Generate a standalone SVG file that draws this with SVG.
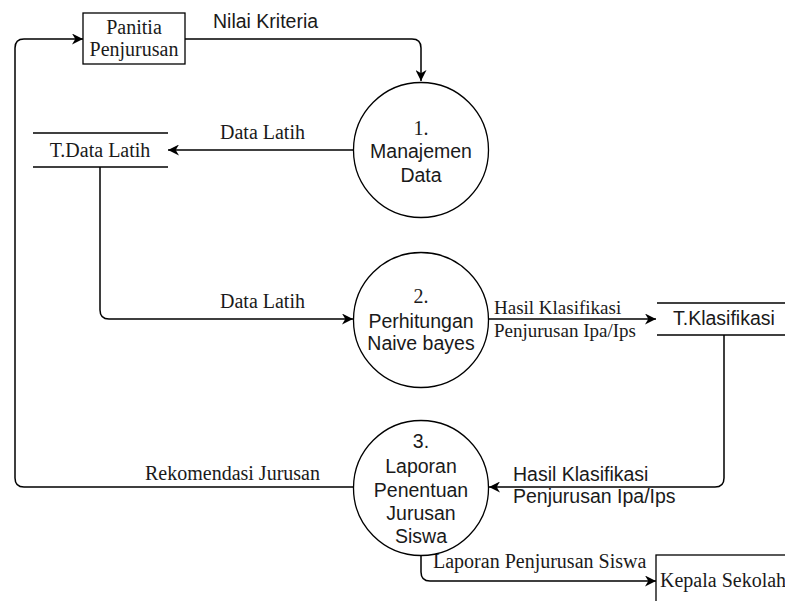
<svg xmlns="http://www.w3.org/2000/svg" width="785" height="601" viewBox="0 0 785 601">
<defs>
<style>
.ln{fill:none;stroke:#000;stroke-width:1.5}
.sh{fill:#fff;stroke:#000;stroke-width:1.3}
.se{font-family:"Liberation Serif","Times New Roman",serif;font-size:20px;fill:#1a1a1a}
.sa{font-family:"Liberation Sans",Arial,sans-serif;font-size:19.5px;fill:#1a1a1a}
.sm{font-size:19px}
.c{text-anchor:middle}
</style>
<marker id="ar" viewBox="0 0 10 10" refX="10" refY="5" markerWidth="11" markerHeight="11" markerUnits="userSpaceOnUse" orient="auto">
<path d="M0,0 L10,5 L0,10 L3,5 z" fill="#000"/>
</marker>
</defs>
<rect width="785" height="601" fill="#fff"/>
<g id="connectors">
<path class="ln" d="M185,39 H412 Q421,39 421,48 V81" marker-end="url(#ar)"/>
<path class="ln" d="M353,150 H168" marker-end="url(#ar)"/>
<path class="ln" d="M100,167 V310 Q100,319 109,319 H353" marker-end="url(#ar)"/>
<path class="ln" d="M488,319 H656" marker-end="url(#ar)"/>
<path class="ln" d="M724,335 V478 Q724,487 715,487 H489" marker-end="url(#ar)"/>
<path class="ln" d="M353,487 H24 Q15,487 15,478 V48 Q15,39 24,39 H83" marker-end="url(#ar)"/>
<path class="ln" d="M421,555 V572 Q421,581 430,581 H656" marker-end="url(#ar)"/>
<text class="sa" x="213" y="28">Nilai Kriteria</text>
<text class="se" x="220" y="139">Data Latih</text>
<text class="se" x="220" y="308">Data Latih</text>
<text class="se sm" x="494" y="314">Hasil Klasifikasi</text>
<text class="se sm" x="494" y="337">Penjurusan Ipa/Ips</text>
<text class="sa" x="513" y="481">Hasil Klasifikasi</text>
<text class="sa" x="513" y="503">Penjurusan Ipa/Ips</text>
<text class="se" x="145" y="480">Rekomendasi Jurusan</text>
<text class="se" x="433" y="568">Laporan Penjurusan Siswa</text>
</g>
<g id="panitia">
<rect class="sh" x="83" y="13" width="102" height="51"/>
<text class="se c" x="134" y="34">Panitia</text>
<text class="se c" x="134" y="56">Penjurusan</text>
</g>
<g id="tdatalatih">
<line class="ln" x1="33" y1="133" x2="168" y2="133"/>
<line class="ln" x1="33" y1="167" x2="168" y2="167"/>
<text class="se c" x="100" y="157">T.Data Latih</text>
</g>
<g id="p1">
<circle class="sh" cx="421" cy="150" r="67.5"/>
<text class="se c" x="421" y="135">1.</text>
<text class="sa c" x="421" y="158">Manajemen</text>
<text class="sa c" x="421" y="182">Data</text>
</g>
<g id="p2">
<circle class="sh" cx="421" cy="320" r="67.5"/>
<text class="se c" x="421" y="303">2.</text>
<text class="sa c" x="421" y="328">Perhitungan</text>
<text class="sa c" x="421" y="350">Naive bayes</text>
</g>
<g id="tklasifikasi">
<line class="ln" x1="657" y1="303" x2="785" y2="303"/>
<line class="ln" x1="657" y1="335" x2="785" y2="335"/>
<text class="sa" x="673" y="325">T.Klasifikasi</text>
</g>
<g id="p3">
<ellipse class="sh" cx="421" cy="488" rx="67.5" ry="67.5"/>
<text class="sa c" x="421" y="448">3.</text>
<text class="sa c" x="421" y="473">Laporan</text>
<text class="sa c" x="421" y="497">Penentuan</text>
<text class="sa c" x="421" y="520">Jurusan</text>
<text class="sa c" x="421" y="543">Siswa</text>
</g>
<g id="kepala">
<rect class="sh" x="656" y="555" width="140" height="60"/>
<text class="se" x="660" y="587">Kepala Sekolah</text>
</g>
</svg>
